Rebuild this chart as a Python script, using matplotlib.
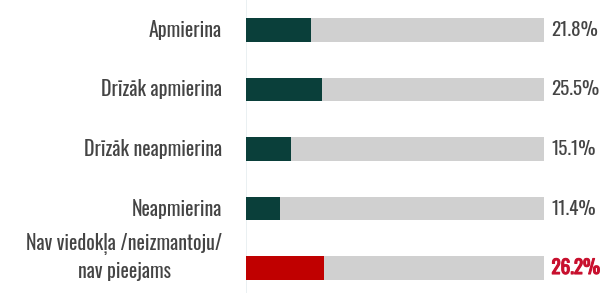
import matplotlib
matplotlib.use('Agg')
import matplotlib.pyplot as plt
import matplotlib.patheffects as pe

categories = ['Apmierina', 'Drīzāk apmierina', 'Drīzāk neapmierina', 'Neapmierina',
              'Nav viedokļa /neizmantoju/\nnav pieejams']
values = [21.8, 25.5, 15.1, 11.4, 26.2]
highlight = [False, False, False, False, True]

plt.rcParams['font.family'] = ['Oswald', 'DejaVu Sans']

fig = plt.figure(figsize=(6.05, 2.93), dpi=100)
ax = fig.add_axes([246 / 605, 0, 298 / 605, 1])

pos = list(range(len(values)))
bar_colors = ['#c00000' if h else '#0a3f3a' for h in highlight]
ax.barh(pos, [100] * len(values), height=0.39, color='#d0d0d0')
ax.barh(pos, values, height=0.39, color=bar_colors)
ax.axvline(0, color='#e6eef0', lw=1.2, zorder=0)

for i, (v, h) in enumerate(zip(values, highlight)):
    t = ax.text(102.5, i, f'{v}%', va='center', ha='left', fontsize=13.8,
                color='#c8102e' if h else '#444444', fontweight='bold' if h else 'normal')
    if h:
        # fake bold, the installed Oswald has only one weight
        t.set_path_effects([pe.withStroke(linewidth=0.8, foreground='#c8102e')])
    two_lines = '\n' in categories[i]
    ax.text(-8, i - 0.18 if two_lines else i, categories[i], va='center', ha='right',
            multialignment='center', fontsize=14.3, color='#444444', linespacing=1.35)

ax.set_xlim(0, 100)
ax.set_ylim(4.42, -0.504)
ax.axis('off')

fig.savefig('out.png', dpi=100)
